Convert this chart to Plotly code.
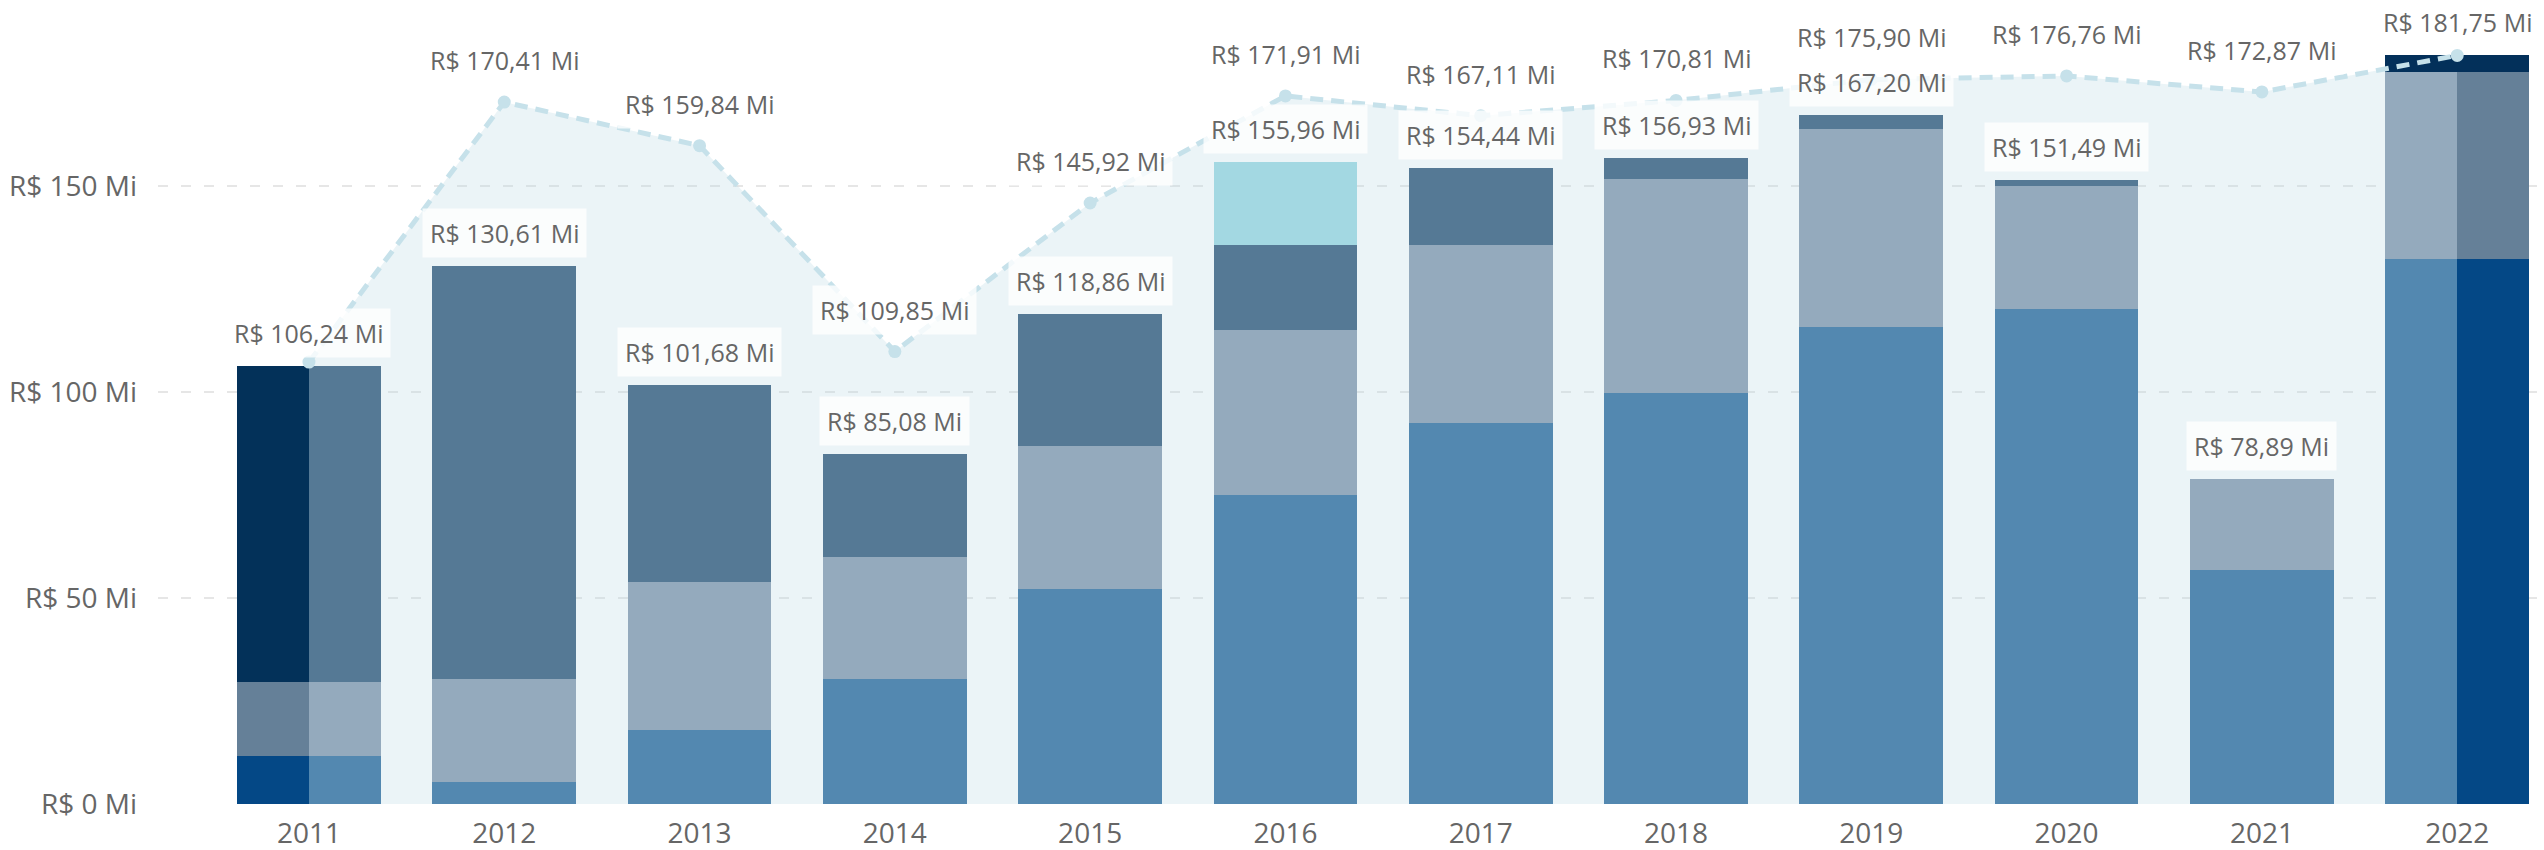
import plotly.graph_objects as go

# ---------------- data ----------------
years = ["2011", "2012", "2013", "2014", "2015", "2016",
         "2017", "2018", "2019", "2020", "2021", "2022"]

serie_a = [11.60, 5.30, 18.00, 30.30, 52.10, 75.10, 92.50, 99.70, 115.90, 120.10, 56.70, 132.20]
serie_b = [18.10, 25.00, 35.90, 29.70, 34.90, 40.00, 43.30, 52.00, 47.90, 30.00, 22.19, 45.50]
serie_c = [76.54, 100.31, 47.78, 25.08, 31.86, 20.70, 18.64, 5.23, 3.40, 1.39, 0.00, 0.00]
serie_d = [0, 0, 0, 0, 0, 20.16, 0, 0, 0, 0, 0, 0]
serie_e = [0, 0, 0, 0, 0, 0, 0, 0, 0, 0, 0, 4.05]

linha = [107.30, 170.41, 159.84, 109.85, 145.92, 171.91, 167.11, 170.81, 175.90, 176.76, 172.87, 181.75]
linha_label = [False, True, True, True, True, True, True, True, True, True, True, False]

ytick_vals = [0, 50, 100, 150]
ytick_text = ["R$ 0 Mi", "R$ 50 Mi", "R$ 100 Mi", "R$ 150 Mi"]

# ---------------- style ----------------
FONT = "Segoe UI, Open Sans, Noto Sans, sans-serif"
TXT = "#666666"
BW = 0.736
col_norm = ["#5388B0", "#94AABD", "#557995", "#A3D8E2", "#03305A"]
col_high = ["#044886", "#658098", "#033159", "#A3D8E2", "#03305A"]
YMAX = 195.2

def fmt(v):
    return "R$ " + f"{v:.2f}".replace(".", ",") + " Mi"

n = len(years)
xs = list(range(n))
series = [serie_a, serie_b, serie_c, serie_d, serie_e]

fig = go.Figure()

# area under the line (behind the bars)
fig.add_trace(go.Scatter(
    x=xs, y=linha, mode="none", fill="tozeroy",
    fillcolor="rgba(190,218,230,0.30)", hoverinfo="skip",
    showlegend=False, xaxis="x", yaxis="y"))

# stacked bars
base = [0.0] * n
bases = []
for vals, c in zip(series, col_norm):
    bases.append(base[:])
    fig.add_trace(go.Bar(
        x=xs, y=vals, base=base[:], width=BW,
        marker=dict(color=c, line=dict(width=0)),
        showlegend=False, xaxis="x", yaxis="y2"))
    base = [b + v for b, v in zip(base, vals)]
totals = base

# highlighted halves (2011 left, 2022 right)
for idx, off in [(0, -BW / 2), (11, 0.0)]:
    for k, (vals, c) in enumerate(zip(series, col_high)):
        if vals[idx] <= 0:
            continue
        fig.add_trace(go.Bar(
            x=[xs[idx]], y=[vals[idx]], base=[bases[k][idx]],
            width=BW / 2, offset=off,
            marker=dict(color=c, line=dict(width=0)),
            showlegend=False, xaxis="x", yaxis="y2"))

# dashed line with markers
fig.add_trace(go.Scatter(
    x=xs, y=linha, mode="lines+markers",
    line=dict(color="#C6E1EA", width=5, dash="13px,8px"),
    marker=dict(color="#C6E1EA", size=13),
    showlegend=False, xaxis="x", yaxis="y2"))

ann = []
for i in range(n):
    ann.append(dict(
        x=xs[i], y=totals[i], xref="x", yref="y", text=fmt(totals[i]),
        showarrow=False, yanchor="middle", xanchor="center", yshift=33,
        font=dict(family=FONT, size=25, color=TXT),
        bgcolor="rgba(255,255,255,0.78)", borderpad=7))
    if linha_label[i]:
        ann.append(dict(
            x=xs[i], y=linha[i], xref="x", yref="y", text=fmt(linha[i]),
            showarrow=False, yanchor="middle", xanchor="center", yshift=42,
            font=dict(family=FONT, size=25, color=TXT),
            bgcolor="rgba(255,255,255,0.78)", borderpad=7))

fig.update_layout(
    width=2544, height=850,
    margin=dict(l=158, r=4, t=0, b=46),
    paper_bgcolor="white", plot_bgcolor="white",
    barmode="overlay", bargap=0,
    font=dict(family=FONT, color=TXT),
    annotations=ann,
    xaxis=dict(
        range=[-0.773, 11.424], tickmode="array", tickvals=xs, ticktext=years,
        showgrid=False, zeroline=False, showline=False, ticks="",
        tickfont=dict(family=FONT, size=28, color=TXT), ticklabelstandoff=10,
        fixedrange=True, automargin=False),
    yaxis=dict(
        range=[0, YMAX], tickmode="array", tickvals=ytick_vals, ticktext=ytick_text,
        showgrid=True, gridcolor="#E6E6E6", gridwidth=2, griddash="10px,13px",
        zeroline=False, showline=False, ticks="", automargin=False,
        tickfont=dict(family=FONT, size=28, color=TXT), ticklabelstandoff=20),
    yaxis2=dict(
        range=[0, YMAX], overlaying="y", visible=False, showgrid=False,
        zeroline=False),
)

fig.write_html(
    "out.html",
    config={"displayModeBar": False},
    post_script="document.body.style.margin='0';document.body.style.overflow='hidden';")
